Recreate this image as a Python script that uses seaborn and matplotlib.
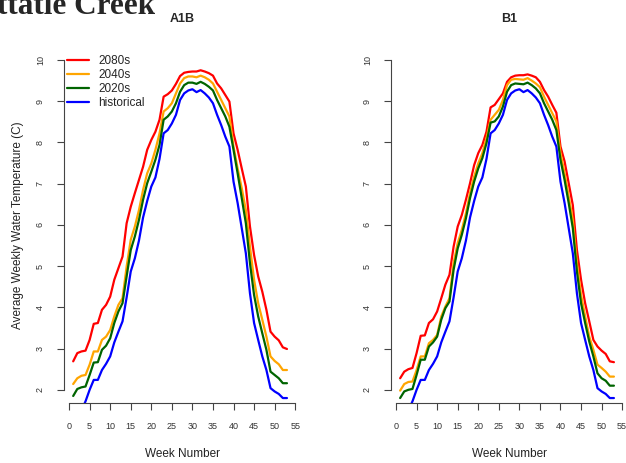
import numpy as np
import pandas as pd
import matplotlib
matplotlib.use("Agg")
import matplotlib.pyplot as plt
import seaborn as sns

# semanas del año
weeks = list(range(1, 54))

# serie histórica (igual en los dos escenarios)
historical = [1.30, 1.45, 1.50, 1.72, 2.00, 2.24, 2.24, 2.48, 2.63, 2.81,
              3.15, 3.41, 3.66, 4.24, 4.87, 5.19, 5.62, 6.18, 6.58, 6.93,
              7.15, 7.60, 8.22, 8.30, 8.46, 8.67, 9.03, 9.19, 9.26, 9.29,
              9.22, 9.27, 9.19, 9.09, 8.95, 8.67, 8.42, 8.14, 7.90, 7.05,
              6.53, 5.92, 5.31, 4.34, 3.62, 3.21, 2.81, 2.48, 2.04, 1.96,
              1.90, 1.80, 1.80]

# escenario A1B
a1b_2080s = [2.69, 2.89, 2.93, 2.95, 3.21, 3.60, 3.62, 3.94, 4.06, 4.26,
             4.67, 4.95, 5.23, 6.04, 6.44, 6.77, 7.09, 7.41, 7.82, 8.06,
             8.26, 8.55, 9.11, 9.17, 9.26, 9.42, 9.61, 9.69, 9.71, 9.72,
             9.72, 9.75, 9.72, 9.68, 9.62, 9.43, 9.31, 9.15, 8.99, 8.22,
             7.82, 7.37, 6.93, 5.96, 5.27, 4.75, 4.38, 3.94, 3.41, 3.29,
             3.20, 3.03, 2.99]
a1b_2040s = [2.14, 2.28, 2.34, 2.36, 2.61, 2.93, 2.93, 3.21, 3.29, 3.45,
             3.78, 4.06, 4.22, 4.99, 5.64, 5.96, 6.36, 6.85, 7.25, 7.49,
             7.82, 8.22, 8.75, 8.83, 8.95, 9.19, 9.43, 9.56, 9.60, 9.60,
             9.58, 9.62, 9.58, 9.52, 9.43, 9.23, 9.03, 8.83, 8.63, 7.90,
             7.37, 6.89, 6.36, 5.47, 4.67, 4.10, 3.70, 3.29, 2.81, 2.70,
             2.62, 2.48, 2.48]
a1b_2020s = [1.85, 2.02, 2.06, 2.08, 2.36, 2.66, 2.67, 2.97, 3.07, 3.25,
             3.62, 3.90, 4.10, 4.75, 5.39, 5.72, 6.12, 6.61, 7.01, 7.29,
             7.58, 7.94, 8.55, 8.63, 8.75, 8.95, 9.23, 9.39, 9.45, 9.45,
             9.42, 9.47, 9.42, 9.35, 9.26, 9.03, 8.83, 8.63, 8.38, 7.82,
             7.25, 6.65, 6.04, 5.07, 4.30, 3.78, 3.37, 2.97, 2.44, 2.36,
             2.28, 2.16, 2.16]

# escenario B1
b1_2080s = [2.28, 2.44, 2.50, 2.53, 2.89, 3.31, 3.32, 3.62, 3.71, 3.90,
            4.22, 4.55, 4.79, 5.47, 5.96, 6.24, 6.61, 7.01, 7.45, 7.74,
            7.94, 8.26, 8.85, 8.91, 9.05, 9.19, 9.47, 9.58, 9.62, 9.63,
            9.63, 9.65, 9.62, 9.58, 9.47, 9.27, 9.11, 8.91, 8.72, 7.90,
            7.54, 7.01, 6.48, 5.39, 4.67, 4.10, 3.66, 3.21, 3.05, 2.95,
            2.87, 2.69, 2.67]
b1_2040s = [1.98, 2.14, 2.19, 2.20, 2.48, 2.81, 2.81, 3.13, 3.21, 3.33,
            3.78, 4.02, 4.22, 5.07, 5.56, 5.88, 6.28, 6.77, 7.17, 7.49,
            7.74, 8.10, 8.55, 8.67, 8.79, 9.03, 9.39, 9.52, 9.54, 9.53,
            9.52, 9.56, 9.50, 9.43, 9.34, 9.11, 8.91, 8.71, 8.51, 7.74,
            7.25, 6.69, 6.12, 5.07, 4.30, 3.78, 3.29, 2.97, 2.61, 2.53,
            2.44, 2.32, 2.32]
b1_2020s = [1.80, 1.96, 2.00, 2.02, 2.36, 2.73, 2.73, 3.05, 3.15, 3.29,
            3.70, 3.98, 4.14, 4.91, 5.43, 5.76, 6.16, 6.65, 7.05, 7.37,
            7.62, 7.98, 8.48, 8.51, 8.63, 8.87, 9.23, 9.39, 9.43, 9.42,
            9.41, 9.45, 9.39, 9.31, 9.19, 8.95, 8.75, 8.55, 8.30, 7.58,
            7.09, 6.53, 5.92, 4.87, 4.10, 3.62, 3.17, 2.81, 2.40, 2.28,
            2.22, 2.10, 2.10]

series_names = ['2080s', '2040s', '2020s', 'historical']
colores = {'2080s': '#ff0000', '2040s': '#ffa500', '2020s': '#006400', 'historical': '#0000ff'}


def armar_tabla(lista_series):
    filas = []
    for nombre, valores in zip(series_names, lista_series):
        filas.append(pd.DataFrame({'week': weeks, 'temp': valores, 'serie': nombre}))
    return pd.concat(filas, ignore_index=True)


data_a1b = armar_tabla([a1b_2080s, a1b_2040s, a1b_2020s, historical])
data_b1 = armar_tabla([b1_2080s, b1_2040s, b1_2020s, historical])

sns.set_style('white')
plt.rcParams['font.family'] = ['Liberation Sans', 'DejaVu Sans']

fig = plt.figure(figsize=(6.26, 4.63), dpi=100)
ax1 = fig.add_axes([0.1018, 0.1296, 0.3796, 0.7676])
ax2 = fig.add_axes([0.6241, 0.1296, 0.3796, 0.7676])

for ax, data, titulo in [(ax1, data_a1b, 'A1B'), (ax2, data_b1, 'B1')]:
    sns.lineplot(data=data, x='week', y='temp', hue='serie', hue_order=series_names,
                 palette=colores, linewidth=1.6, sort=False, legend=(ax is ax1), ax=ax)
    ax.set_xlim(-1.3, 56.5)
    ax.set_ylim(1.68, 10.3)
    ax.set_xticks(range(0, 56, 5))
    ax.set_yticks(range(2, 11))
    ax.spines['top'].set_visible(False)
    ax.spines['right'].set_visible(False)
    for lado in ['left', 'bottom']:
        ax.spines[lado].set_color('#444444')
        ax.spines[lado].set_linewidth(0.8)
    ax.spines['left'].set_bounds(2, 10)
    ax.spines['bottom'].set_bounds(0, 55)
    ax.tick_params(axis='both', direction='out', length=5, width=0.8, color='#444444',
                   labelsize=6.5, labelcolor='#333333', pad=8.5, left=True, bottom=True)
    ax.tick_params(axis='y', labelrotation=90)
    for lab in ax.get_yticklabels():
        lab.set_va('center')
    ax.set_xlabel('Week Number', fontsize=8.5, color='#222222')
    ax.xaxis.set_label_coords(0.5, -0.127)
    ax.set_ylabel('')
    ax.set_title(titulo, fontsize=9, fontweight='bold', pad=0, y=1.072)

ax1.set_ylabel('Average Weekly Water Temperature (C)', fontsize=8.5, color='#222222')
ax1.yaxis.set_label_coords(-0.169, 0.5)

sns.move_legend(ax1, 'upper left', bbox_to_anchor=(0.0139, 0.978), title=None,
                frameon=False, fontsize=8.5, handlelength=1.86, handletextpad=0.76,
                labelspacing=0.16, borderpad=0, borderaxespad=0)

fig.text(155 / 626, 0.9698, 'ttatle Creek', fontsize=22.5, fontweight='bold',
         family=['Liberation Serif', 'DejaVu Serif'], ha='right', va='baseline')

fig.savefig('out.png', dpi=100)
